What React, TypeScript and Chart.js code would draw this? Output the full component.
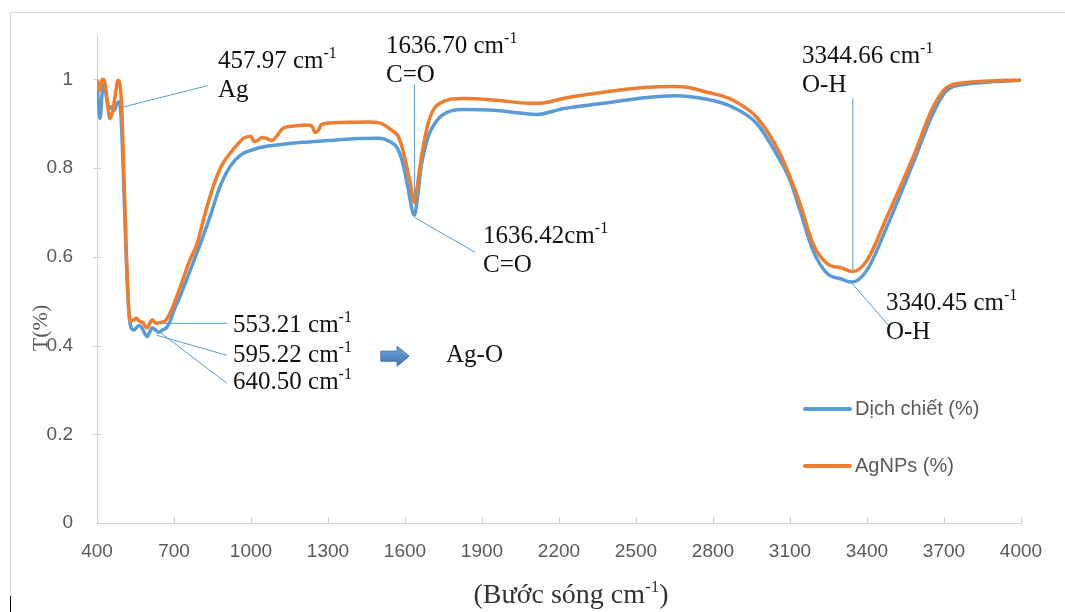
import React, { useEffect, useRef } from "react";
import { Chart, registerables } from "chart.js";

Chart.register(...registerables);

// FTIR transmittance of the plant extract (Dịch chiết)
const extractWavenumber = [
  400, 405, 412, 420, 428, 437, 447, 457.97, 468, 478, 488, 495, 505, 515, 525, 533,
  545, 553.21, 565, 575, 588, 595.22, 605, 615, 628, 640.5, 655, 670, 685, 700, 723,
  760, 800, 840, 880, 920, 960, 1000, 1050, 1100, 1200, 1300, 1400, 1500, 1540, 1570,
  1592, 1610, 1636.42, 1650, 1662, 1672, 1690, 1705, 1744, 1826, 1958, 2050, 2114,
  2216, 2372, 2543, 2650, 2776, 2878, 2971, 3061, 3100, 3139, 3189, 3244, 3300,
  3340.45, 3400, 3477, 3579, 3657, 3711, 3789, 3900, 4000,
];
const extractT = [
  0.99, 0.95, 0.912, 0.97, 0.99, 0.96, 0.935, 0.938, 0.93, 0.945, 0.95, 0.9, 0.75, 0.58,
  0.47, 0.44, 0.435, 0.44, 0.445, 0.44, 0.425, 0.42, 0.43, 0.44, 0.435, 0.43, 0.435,
  0.44, 0.455, 0.48, 0.51, 0.565, 0.625, 0.69, 0.76, 0.805, 0.83, 0.84, 0.848, 0.852,
  0.858, 0.862, 0.866, 0.867, 0.86, 0.845, 0.81, 0.76, 0.694, 0.74, 0.8, 0.83, 0.87,
  0.89, 0.919, 0.932, 0.93, 0.924, 0.921, 0.934, 0.946, 0.959, 0.963, 0.955, 0.937,
  0.9, 0.818, 0.773, 0.705, 0.615, 0.563, 0.55, 0.543, 0.57, 0.667, 0.81, 0.923,
  0.975, 0.989, 0.995, 0.998,
];

// FTIR transmittance of the silver nanoparticles (AgNPs)
const agnpsWavenumber = [
  400, 408, 414, 422, 430, 440, 450, 460, 470, 482, 490, 497, 505, 515, 524, 532, 545,
  553, 565, 578, 595, 607, 617, 630, 645, 665, 690, 723, 760, 790, 820, 852, 885, 918,
  950, 970, 1000, 1012, 1025, 1043, 1060, 1081, 1100, 1125, 1170, 1218, 1237, 1250,
  1262, 1276, 1350, 1450, 1500, 1549, 1575, 1592, 1619, 1636.7, 1648, 1666, 1697,
  1736, 1826, 1958, 2087, 2150, 2216, 2372, 2543, 2650, 2700, 2776, 2850, 2878, 2971,
  3061, 3100, 3139, 3189, 3244, 3300, 3344.66, 3400, 3477, 3579, 3657, 3711, 3789,
  3900, 4000,
];
const agnpsT = [
  1.0, 0.975, 0.99, 1.0, 0.995, 0.95, 0.912, 0.925, 0.96, 0.998, 0.985, 0.93, 0.78, 0.6,
  0.48, 0.455, 0.458, 0.462, 0.455, 0.452, 0.44, 0.452, 0.458, 0.45, 0.452, 0.455,
  0.48, 0.53, 0.59, 0.63, 0.695, 0.757, 0.805, 0.833, 0.855, 0.867, 0.872, 0.86, 0.862,
  0.869, 0.867, 0.862, 0.872, 0.89, 0.895, 0.897, 0.895, 0.88, 0.885, 0.899, 0.903,
  0.904, 0.902, 0.885, 0.87, 0.84, 0.77, 0.723, 0.76, 0.833, 0.914, 0.946, 0.957,
  0.953, 0.946, 0.948, 0.957, 0.971, 0.982, 0.984, 0.982, 0.971, 0.96, 0.953, 0.914,
  0.833, 0.78, 0.72, 0.63, 0.585, 0.575, 0.567, 0.592, 0.689, 0.824, 0.937, 0.982,
  0.993, 0.997, 0.998,
];

const seriesNames = ["Dịch chiết (%)", "AgNPs (%)"];
const seriesColors = ["#5b9bd5", "#ed7d31"];

const xMin = 400;
const xMax = 4000;
const xStep = 300;
const yMin = 0;
const yMax = 1.1;
const yStep = 0.2;

const yTitle = "T(%)";
const xTitle: Array<[string, boolean]> = [["(Bước sóng cm", false], ["-1", true], [")", false]];

type Run = [string, boolean];
type PeakLabel = {
  lines: Run[][];
  textAt: [number, number];
  leader?: [[number, number], [number, number]];
};

// Peak assignments: text anchor and leader line, both in (wavenumber, T) units
const peakLabels: PeakLabel[] = [
  { lines: [[["457.97 cm", false], ["-1", true]], [["Ag", false]]], textAt: [871, 1.025], leader: [[497, 0.937], [832, 0.986]] },
  { lines: [[["1636.70 cm", false], ["-1", true]], [["C=O", false]]], textAt: [1526, 1.059], leader: [[1636.7, 0.989], [1636.7, 0.734]] },
  { lines: [[["1636.42cm", false], ["-1", true]], [["C=O", false]]], textAt: [1904, 0.631], leader: [[1636.42, 0.689], [1873, 0.61]] },
  { lines: [[["3344.66 cm", false], ["-1", true]], [["O-H", false]]], textAt: [3147, 1.038], leader: [[3344.66, 0.957], [3344.66, 0.572]] },
  { lines: [[["3340.45 cm", false], ["-1", true]], [["O-H", false]]], textAt: [3474, 0.48], leader: [[3340.45, 0.541], [3490, 0.441]] },
  { lines: [[["553.21 cm", false], ["-1", true]]], textAt: [930, 0.43], leader: [[660, 0.45], [906, 0.45]] },
  { lines: [[["595.22 cm", false], ["-1", true]]], textAt: [930, 0.363], leader: [[634, 0.423], [906, 0.378]] },
  { lines: [[["640.50 cm", false], ["-1", true]]], textAt: [930, 0.302], leader: [[645, 0.43], [906, 0.315]] },
  { lines: [[["Ag-O", false]]], textAt: [1760, 0.363] },
];
const arrowFrom: [number, number] = [1506, 0.376];
const arrowTo: [number, number] = [1616, 0.376];

const SERIF = '"Liberation Serif", "Times New Roman", serif';
const SANS = '"Liberation Sans", Arial, sans-serif';
const GREY_TEXT = "#595959";
const AXIS_GREY = "#d0d0d0";

function runsWidth(ctx: CanvasRenderingContext2D, runs: Run[], size: number) {
  let w = 0;
  for (const [t, sup] of runs) {
    ctx.font = `${sup ? Math.round(size * 0.62) : size}px ${SERIF}`;
    w += ctx.measureText(t).width;
  }
  return w;
}

function drawRuns(ctx: CanvasRenderingContext2D, runs: Run[], x: number, y: number, size: number) {
  let cx = x;
  ctx.textAlign = "left";
  ctx.textBaseline = "alphabetic";
  for (const [t, sup] of runs) {
    ctx.font = `${sup ? Math.round(size * 0.62) : size}px ${SERIF}`;
    ctx.fillText(t, cx, sup ? y - size * 0.4 : y);
    cx += ctx.measureText(t).width;
  }
}

const decorPlugin = {
  id: "ftirDecor",
  beforeDraw(chart: any) {
    const ctx: CanvasRenderingContext2D = chart.ctx;
    ctx.save();
    ctx.fillStyle = "#ffffff";
    ctx.fillRect(0, 0, chart.width, chart.height);
    // outer frame
    ctx.strokeStyle = "#d9d9d9";
    ctx.lineWidth = 1;
    ctx.beginPath();
    ctx.moveTo(10.5, 596);
    ctx.lineTo(10.5, 12.5);
    ctx.lineTo(chart.width, 12.5);
    ctx.stroke();
    ctx.strokeStyle = "#000000";
    ctx.beginPath();
    ctx.moveTo(10.5, 596);
    ctx.lineTo(10.5, chart.height);
    ctx.stroke();
    ctx.restore();
  },
  afterDraw(chart: any) {
    const ctx: CanvasRenderingContext2D = chart.ctx;
    const xs = chart.scales.x;
    const ys = chart.scales.y;
    const area = chart.chartArea;
    const px = (v: number) => xs.getPixelForValue(v);
    const py = (v: number) => ys.getPixelForValue(v);
    ctx.save();

    // axis tick marks
    ctx.strokeStyle = AXIS_GREY;
    ctx.lineWidth = 1;
    ctx.beginPath();
    for (let v = xMin; v <= xMax; v += xStep) {
      const x = Math.round(px(v)) + 0.5;
      ctx.moveTo(x, area.bottom);
      ctx.lineTo(x, area.bottom - 6);
    }
    for (let v = yMin + yStep; v <= 1.0001; v += yStep) {
      const y = Math.round(py(v)) + 0.5;
      ctx.moveTo(area.left - 4, y);
      ctx.lineTo(area.left + 4, y);
    }
    ctx.stroke();

    // peak leader lines
    ctx.strokeStyle = "#5b9bd5";
    ctx.lineWidth = 1;
    for (const p of peakLabels) {
      if (!p.leader) continue;
      ctx.beginPath();
      ctx.moveTo(px(p.leader[0][0]), py(p.leader[0][1]));
      ctx.lineTo(px(p.leader[1][0]), py(p.leader[1][1]));
      ctx.stroke();
    }

    // peak texts
    const size = 25;
    const lineGap = 29;
    ctx.fillStyle = "#111111";
    for (const p of peakLabels) {
      const x0 = px(p.textAt[0]);
      const y0 = py(p.textAt[1]);
      p.lines.forEach((runs, i) => drawRuns(ctx, runs, x0, y0 + i * lineGap, size));
    }

    // block arrow pointing to Ag-O
    const ax0 = px(arrowFrom[0]);
    const ax1 = px(arrowTo[0]);
    const ay = py(arrowFrom[1]);
    const headLen = 12;
    ctx.beginPath();
    ctx.moveTo(ax0, ay - 5);
    ctx.lineTo(ax1 - headLen, ay - 5);
    ctx.lineTo(ax1 - headLen, ay - 10);
    ctx.lineTo(ax1, ay);
    ctx.lineTo(ax1 - headLen, ay + 10);
    ctx.lineTo(ax1 - headLen, ay + 5);
    ctx.lineTo(ax0, ay + 5);
    ctx.closePath();
    const grad = ctx.createLinearGradient(0, ay - 10, 0, ay + 10);
    grad.addColorStop(0, "#6fa8dc");
    grad.addColorStop(1, "#3d73b0");
    ctx.fillStyle = grad;
    ctx.fill();
    ctx.strokeStyle = "#41719c";
    ctx.stroke();

    // legend
    const legendRows = [409, 466];
    seriesNames.forEach((name, i) => {
      ctx.strokeStyle = seriesColors[i];
      ctx.lineWidth = 4;
      ctx.lineCap = "round";
      ctx.beginPath();
      ctx.moveTo(805, legendRows[i]);
      ctx.lineTo(850, legendRows[i]);
      ctx.stroke();
      ctx.fillStyle = GREY_TEXT;
      ctx.font = `20px ${SANS}`;
      ctx.textAlign = "left";
      ctx.textBaseline = "middle";
      ctx.fillText(name, 855, legendRows[i]);
    });

    // y axis title
    ctx.save();
    ctx.translate(41, 328);
    ctx.rotate(-Math.PI / 2);
    ctx.fillStyle = GREY_TEXT;
    ctx.font = `22px ${SERIF}`;
    ctx.textAlign = "center";
    ctx.textBaseline = "middle";
    ctx.fillText(yTitle, 0, 0);
    ctx.restore();

    // x axis title
    ctx.fillStyle = "#333333";
    const tSize = 28;
    const tw = runsWidth(ctx, xTitle, tSize);
    drawRuns(ctx, xTitle, 571 - tw / 2, 603, tSize);

    ctx.restore();
  },
};

export default function App() {
  const canvasRef = useRef<HTMLCanvasElement | null>(null);

  useEffect(() => {
    if (!canvasRef.current) return;
    const toPoints = (xs: number[], ys: number[]) => xs.map((x, i) => ({ x, y: ys[i] }));
    const chart = new Chart(canvasRef.current, {
      type: "line",
      data: {
        datasets: [
          {
            label: seriesNames[1],
            data: toPoints(agnpsWavenumber, agnpsT),
            borderColor: seriesColors[1],
            borderWidth: 3.5,
            pointRadius: 0,
            cubicInterpolationMode: "monotone",
            fill: false,
          },
          {
            label: seriesNames[0],
            data: toPoints(extractWavenumber, extractT),
            borderColor: seriesColors[0],
            borderWidth: 3.5,
            pointRadius: 0,
            cubicInterpolationMode: "monotone",
            fill: false,
          },
        ],
      },
      options: {
        animation: false,
        responsive: false,
        events: [],
        layout: { padding: { left: 0, right: 44, top: 35, bottom: 0 } },
        plugins: { legend: { display: false }, tooltip: { enabled: false } },
        scales: {
          x: {
            type: "linear",
            min: xMin,
            max: xMax,
            ticks: {
              stepSize: xStep,
              padding: 9,
              color: GREY_TEXT,
              font: { family: SANS, size: 19 },
              maxRotation: 0,
              callback: (v: any) => String(Math.round(Number(v))),
            },
            grid: { display: false },
            border: { display: true, color: AXIS_GREY, width: 1 },
            afterFit: (s: any) => {
              s.height = 89;
            },
          },
          y: {
            type: "linear",
            min: yMin,
            max: yMax,
            ticks: {
              stepSize: yStep,
              padding: 16,
              color: GREY_TEXT,
              font: { family: SANS, size: 19 },
              callback: (v: any) => (Number(v) > 1.0001 ? "" : String(Math.round(Number(v) * 10) / 10)),
            },
            afterBuildTicks: (s: any) => {
              s.ticks = s.ticks.filter((t: any) => t.value <= 1.0001);
            },
            grid: { display: false },
            border: { display: true, color: AXIS_GREY, width: 1 },
            afterFit: (s: any) => {
              s.width = 97;
            },
          },
        },
      },
      plugins: [decorPlugin],
    });
    return () => chart.destroy();
  }, []);

  return (
    <div style={{ position: "fixed", left: 0, top: 0, width: 1065, height: 612, background: "#fff" }}>
      <canvas ref={canvasRef} width={1065} height={612} />
    </div>
  );
}
